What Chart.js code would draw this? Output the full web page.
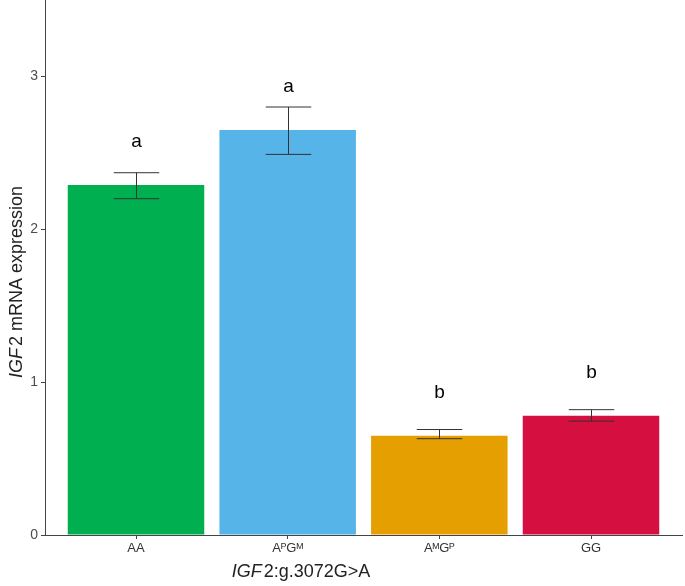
<!DOCTYPE html>
<html>
<head>
    <title>IGF2 mRNA expression</title>
    <script src="https://cdn.jsdelivr.net/npm/chart.js"></script>
    <style>
        body { margin: 0; background: #fff; }
    </style>
</head>
<body>
    <canvas id="igfChart" width="685" height="586"></canvas>
    <script>
        // genotype groups
        var categories = ['AA', 'A\u1D3EG\u1D39', 'A\u1D39G\u1D3E', 'GG'];
        var means = [2.29, 2.65, 0.65, 0.78];
        var errLow = [2.20, 2.49, 0.63, 0.745];
        var errHigh = [2.37, 2.80, 0.69, 0.82];
        var letters = ['a', 'a', 'b', 'b'];
        var letterY = [2.57, 2.93, 0.93, 1.06];
        var yTicks = [0, 1, 2, 3];
        var barColors = ['#00b050', '#56b4e9', '#e69f00', '#d50f3f'];

        var axisGrey = '#444444';

        // error bars + significance letters + axis titles (mixed italic)
        var extras = {
            id: 'extras',
            afterDatasetsDraw: function(chart) {
                var c = chart.ctx, xs = chart.scales.x, ys = chart.scales.y;
                c.save();
                c.strokeStyle = '#333333';
                c.lineWidth = 1;
                for (var i = 0; i < means.length; i++) {
                    var px = Math.round(xs.getPixelForValue(i + 1)) + 0.5;
                    var lo = ys.getPixelForValue(errLow[i]);
                    var hi = ys.getPixelForValue(errHigh[i]);
                    var half = xs.getPixelForValue(1.15) - xs.getPixelForValue(1);
                    c.beginPath();
                    c.moveTo(px, lo); c.lineTo(px, hi);
                    c.moveTo(px - half, lo); c.lineTo(px + half, lo);
                    c.moveTo(px - half, hi); c.lineTo(px + half, hi);
                    c.stroke();

                    c.fillStyle = '#000';
                    c.font = '19px "Liberation Sans", Arial, sans-serif';
                    c.textAlign = 'center';
                    c.textBaseline = 'middle';
                    c.fillText(letters[i], px, ys.getPixelForValue(letterY[i]));
                }

                // x title
                var parts = [['IGF', 'italic'], ['2:g.3072G>A', 'normal']];
                drawMixed(c, parts, 301, 572, 0);
                // y title
                var yparts = [['IGF', 'italic'], ['2 mRNA expression', 'normal']];
                drawMixed(c, yparts, 17, 282, -Math.PI / 2);
                c.restore();
            }
        };

        function drawMixed(c, parts, x, y, rot) {
            c.save();
            c.translate(x, y);
            c.rotate(rot);
            c.fillStyle = '#222';
            c.textBaseline = 'middle';
            c.textAlign = 'left';
            var total = 0;
            parts.forEach(function(p) {
                c.font = p[1] + ' 18px "Liberation Sans", Arial, sans-serif';
                total += c.measureText(p[0]).width + (p[1] === 'italic' ? 2 : 0);
            });
            var cx = -total / 2;
            parts.forEach(function(p) {
                c.font = p[1] + ' 18px "Liberation Sans", Arial, sans-serif';
                c.fillText(p[0], cx, 0);
                cx += c.measureText(p[0]).width + (p[1] === 'italic' ? 2 : 0);
            });
            c.restore();
        }

        var ctx = document.getElementById('igfChart').getContext('2d');
        var igfChart = new Chart(ctx, {
            type: 'bar',
            data: {
                datasets: [{
                    label: 'IGF2 mRNA expression',
                    data: means.map(function(v, i) { return { x: i + 1, y: v }; }),
                    backgroundColor: barColors,
                    borderWidth: 0,
                    categoryPercentage: 1,
                    barPercentage: 0.9
                }]
            },
            options: {
                responsive: false,
                animation: false,
                layout: { padding: { top: 0, right: 3, left: 0, bottom: 0 } },
                plugins: {
                    legend: { display: false },
                    tooltip: { enabled: false }
                },
                scales: {
                    x: {
                        type: 'linear',
                        min: 0.4,
                        max: 4.6,
                        offset: false,
                        afterBuildTicks: function(s) {
                            s.ticks = categories.map(function(c, i) { return { value: i + 1 }; });
                        },
                        afterFit: function(s) { s.height = 51; s.paddingLeft = 0; s.paddingRight = 0; },
                        ticks: {
                            autoSkip: false,
                            maxRotation: 0,
                            color: '#333333',
                            padding: 2,
                            font: { family: '"Liberation Sans", Arial, sans-serif', size: 13 },
                            callback: function(v) { return categories[v - 1]; }
                        },
                        grid: { offset: false, color: 'transparent', tickColor: axisGrey, tickLength: 4 },
                        border: { color: axisGrey, width: 1 }
                    },
                    y: {
                        min: 0,
                        max: 3.5,
                        afterBuildTicks: function(s) {
                            s.ticks = yTicks.map(function(v) { return { value: v }; });
                        },
                        afterFit: function(s) { s.width = 45; s.paddingTop = 0; s.paddingBottom = 0; },
                        ticks: {
                            color: '#4d4d4d',
                            padding: 3,
                            font: { family: '"Liberation Sans", Arial, sans-serif', size: 14 }
                        },
                        grid: { color: 'transparent', tickColor: axisGrey, tickLength: 4 },
                        border: { color: axisGrey, width: 1 }
                    }
                }
            },
            plugins: [extras]
        });
    </script>
</body>
</html>
